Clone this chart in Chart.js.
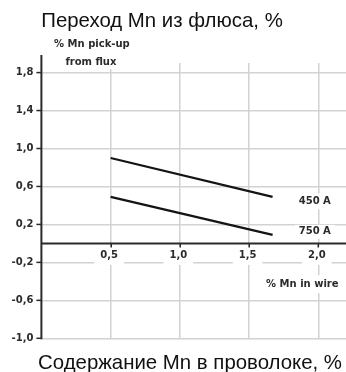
<!DOCTYPE html>
<html>
<head>
<meta charset="utf-8">
<script src="https://cdn.jsdelivr.net/npm/chart.js@4.4.1/dist/chart.umd.min.js"></script>
<style>
html, body { margin: 0; padding: 0; background: #fff; }
#wrap { width: 346px; height: 372px; }
</style>
</head>
<body>
<div id="wrap"><canvas id="chart" width="346" height="372"></canvas></div>
<script>
// % Mn in wire (x) vs % Mn pick-up from flux (y), two welding currents
const wireMn = [0.5, 1.67];
const pickup450 = [0.90, 0.49];
const pickup750 = [0.49, 0.09];
const seriesNames = ['450 A', '750 A'];
const xTicks = [0.5, 1.0, 1.5, 2.0];
const xTickLabels = ['0,5', '1,0', '1,5', '2,0'];
const yTicks = [1.8, 1.4, 1.0, 0.6, 0.2, -0.2, -0.6, -1.0];
const yTickLabels = ['1,8', '1,4', '1,0', '0,6', '0,2', '-0,2', '-0,6', '-1,0'];
const titleTop = 'Переход Mn из флюса, %';
const titleBottom = 'Содержание Mn в проволоке, %';
const yAxisNote = ['% Mn pick-up', 'from flux'];
const xAxisNote = '% Mn in wire';

const SMALL = 'bold 10px "DejaVu Sans"';
const INK = '#2b2b2b';
const GRID = '#d2d2d2';

function toPoints(xs, ys) {
    return xs.map((v, i) => ({ x: v, y: ys[i] }));
}

// text on a white patch, the patch hides the grid behind it
function boxedText(ctx, text, cx, cy, padX, halfH) {
    const w = ctx.measureText(text).width;
    ctx.fillStyle = '#fff';
    ctx.fillRect(cx - w / 2 - padX, cy - halfH, w + 2 * padX, 2 * halfH);
    ctx.fillStyle = INK;
    ctx.fillText(text, cx, cy);
}

const decor = {
    id: 'decor',
    beforeDatasetsDraw(chart) {
        const { ctx, chartArea: a, scales: { x, y } } = chart;
        const y0 = y.getPixelForValue(0);
        ctx.save();
        ctx.font = SMALL;
        ctx.textAlign = 'center';
        ctx.textBaseline = 'middle';

        // labels sitting on the grid
        xTicks.forEach((v, i) => boxedText(ctx, xTickLabels[i], x.getPixelForValue(v) - 1.5, y0 + 12.5, 6, 9));
        boxedText(ctx, xAxisNote, x.getPixelForValue(2.0) - 16, y.getPixelForValue(-0.43), 3, 9);
        const last = wireMn.length - 1;
        boxedText(ctx, seriesNames[0], x.getPixelForValue(2.0) - 3.5, y.getPixelForValue(pickup450[last]) + 4.5, 4, 8);
        boxedText(ctx, seriesNames[1], x.getPixelForValue(2.0) - 3.5, y.getPixelForValue(pickup750[last]) - 3, 4, 7);
        boxedText(ctx, yAxisNote[1], a.left + 49.5, a.top - 1, 3, 7);
        ctx.fillStyle = INK;
        ctx.fillText(yAxisNote[0], a.left + 50.5, 44);

        // zero line with little ticks
        ctx.strokeStyle = '#2a2a2a';
        ctx.lineWidth = 2;
        ctx.beginPath();
        ctx.moveTo(a.left, y0);
        ctx.lineTo(a.right, y0);
        ctx.stroke();
        ctx.lineWidth = 1.5;
        xTicks.forEach(v => {
            const px = Math.round(x.getPixelForValue(v)) + 0.25;
            ctx.beginPath();
            ctx.moveTo(px, y0);
            ctx.lineTo(px, y0 + 4);
            ctx.stroke();
        });

        // y axis
        ctx.lineWidth = 2;
        ctx.beginPath();
        ctx.moveTo(a.left, a.top - 8);
        ctx.lineTo(a.left, a.bottom + 1);
        ctx.stroke();
        ctx.lineWidth = 1.5;
        ctx.textAlign = 'right';
        yTicks.forEach((v, i) => {
            const py = y.getPixelForValue(v);
            ctx.beginPath();
            ctx.moveTo(a.left - 5, py);
            ctx.lineTo(a.left, py);
            ctx.stroke();
            ctx.fillStyle = INK;
            ctx.fillText(yTickLabels[i], a.left - 8, py);
        });
        ctx.restore();
    },
    afterDraw(chart) {
        const ctx = chart.ctx;
        ctx.save();
        ctx.fillStyle = '#111';
        ctx.font = '20.4px "Liberation Sans"';
        ctx.textAlign = 'center';
        ctx.textBaseline = 'alphabetic';
        ctx.fillText(titleTop, 162, 27);
        ctx.fillText(titleBottom, 190, 369);
        ctx.restore();
    }
};

new Chart(document.getElementById('chart'), {
    type: 'line',
    data: {
        datasets: [{
            label: seriesNames[0],
            data: toPoints(wireMn, pickup450),
            borderColor: '#141414',
            borderWidth: 2.3,
            pointRadius: 0,
            tension: 0
        }, {
            label: seriesNames[1],
            data: toPoints(wireMn, pickup750),
            borderColor: '#141414',
            borderWidth: 2.3,
            pointRadius: 0,
            tension: 0
        }]
    },
    options: {
        responsive: false,
        animation: false,
        devicePixelRatio: 1,
        layout: { padding: { left: 41.4, right: 0, top: 63.1, bottom: 33.7 } },
        plugins: { legend: { display: false }, tooltip: { enabled: false }, title: { display: false } },
        scales: {
            x: {
                type: 'linear',
                min: 0,
                max: 2.2,
                afterBuildTicks: axis => { axis.ticks = xTicks.map(v => ({ value: v })); },
                ticks: { display: false },
                border: { display: false },
                grid: { color: GRID, lineWidth: 1.5, drawTicks: false }
            },
            y: {
                type: 'linear',
                min: -1.0,
                max: 1.9,
                afterBuildTicks: axis => { axis.ticks = yTicks.map(v => ({ value: v })); },
                ticks: { display: false },
                border: { display: false },
                grid: { color: GRID, lineWidth: 1.5, drawTicks: false }
            }
        }
    },
    plugins: [decor]
});
</script>
</body>
</html>
